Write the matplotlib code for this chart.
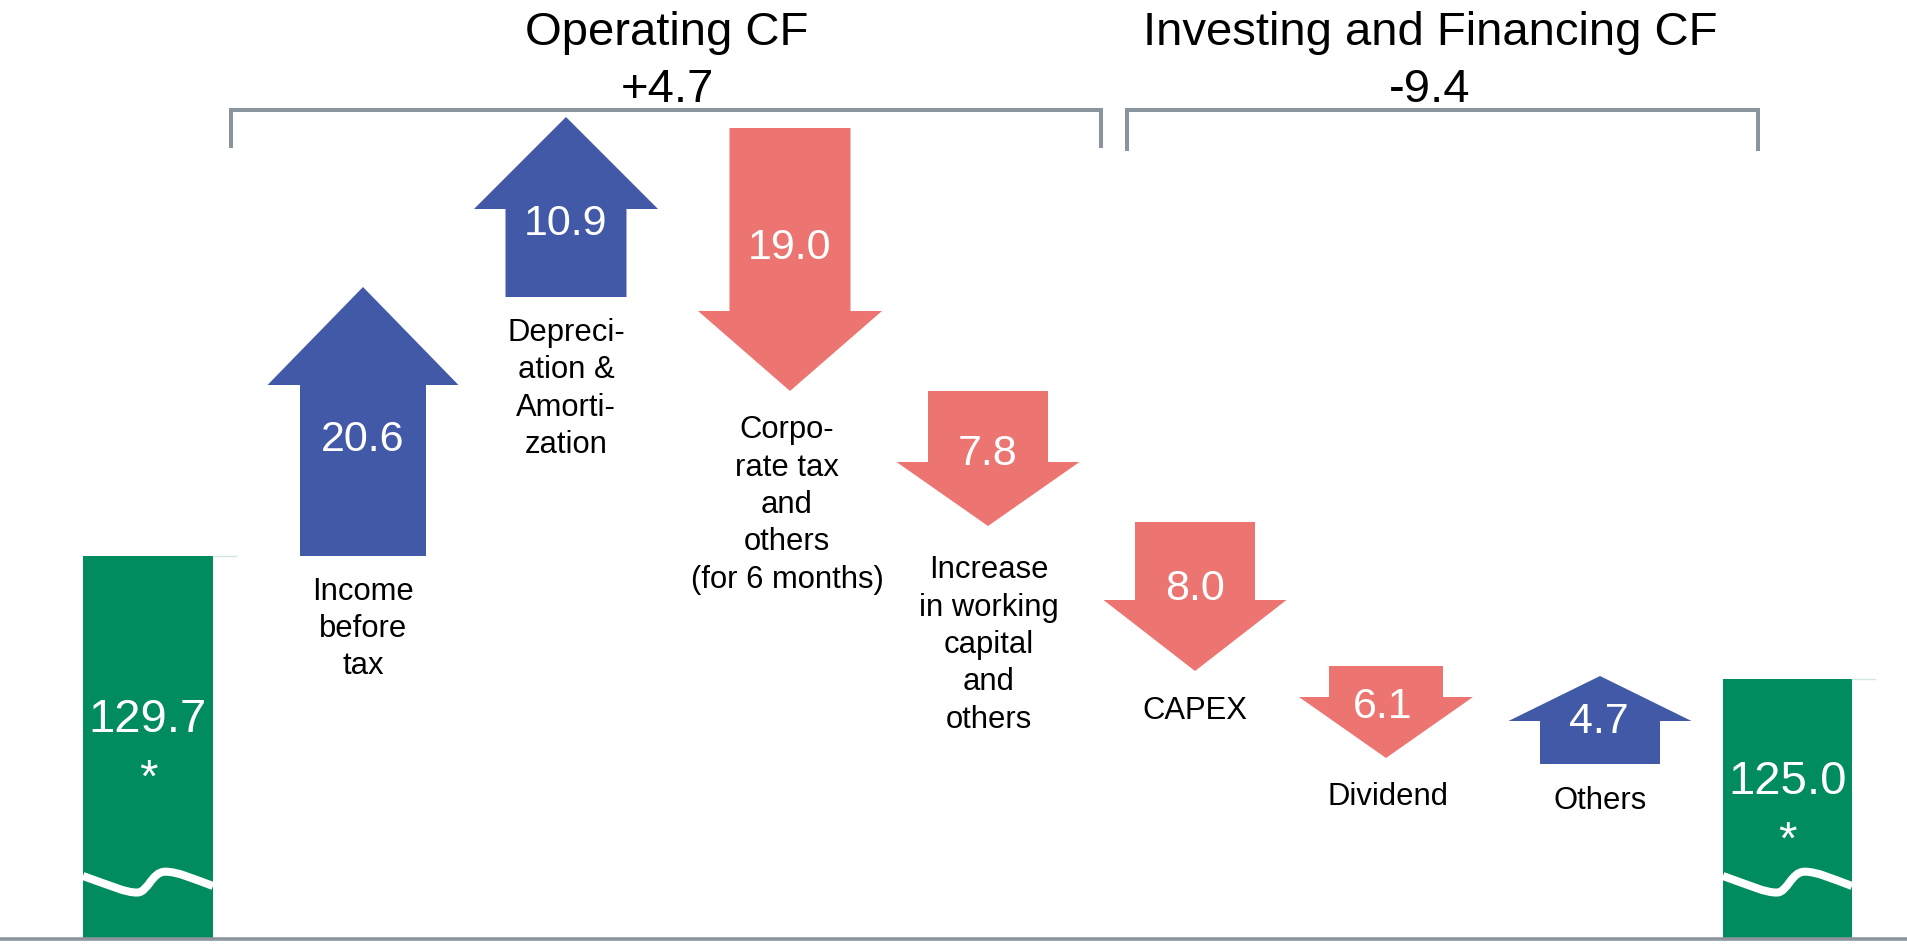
import matplotlib
matplotlib.use("Agg")
import matplotlib.pyplot as plt
from matplotlib.patches import Polygon, Rectangle, PathPatch
from matplotlib.path import Path

plt.rcParams['font.family'] = ['Liberation Sans', 'DejaVu Sans']

# --- data ---
categories = ["Income\nbefore\ntax", "Depreci-\nation &\nAmorti-\nzation",
              "Corpo-\nrate tax\nand\nothers\n(for 6 months)",
              "Increase\nin working\ncapital\nand\nothers",
              "CAPEX", "Dividend", "Others"]
values = [20.6, 10.9, -19.0, -7.8, -8.0, -6.1, 4.7]
cash_start = 129.7
cash_end = 125.0
groups = ["Operating CF", "Investing and Financing CF"]
group_totals = ["+4.7", "-9.4"]

# schematic layout (the arrows are not drawn to scale in the original), pixel units
arrow_x = [363, 566, 790, 988, 1195, 1386, 1600]
arrow_from = [556, 297, 128, 391, 522, 666, 764]
arrow_to = [287, 117, 391, 526, 671, 758, 676]
shaft_w = [126, 121, 121, 120, 120, 114, 120]
head_w = [191, 184, 184, 183, 183, 174, 183]
head_len = [98, 92, 80, 64, 71, 61, 45]
value_x = [363, 566, 790, 988, 1195, 1383, 1599]
value_y = [440, 224, 248, 454, 589, 707, 722]
label_x = [363, 566, 787, 989, 1195, 1388, 1600]
label_y = [629, 389, 505, 645, 711, 797, 801]

BLUE = '#4259A7'
RED = '#EC7572'
GREEN = '#008C5F'
GRAY = '#8A949E'

fig = plt.figure(figsize=(19.08, 9.44), dpi=100)
ax = fig.add_axes([0, 0, 1, 1])
ax.set_xlim(0, 1908)
ax.set_ylim(944, 0)
ax.axis('off')


def arrow(xc, y0, y1, sw, hw, hl, color):
    d = 1 if y1 > y0 else -1
    yb = y1 - d * hl
    pts = [(xc - sw / 2, y0), (xc + sw / 2, y0), (xc + sw / 2, yb), (xc + hw / 2, yb),
           (xc, y1), (xc - hw / 2, yb), (xc - sw / 2, yb)]
    ax.add_patch(Polygon(pts, closed=True, facecolor=color, edgecolor='none'))


for i, v in enumerate(values):
    col = BLUE if v > 0 else RED
    arrow(arrow_x[i], arrow_from[i], arrow_to[i], shaft_w[i], head_w[i], head_len[i], col)
    ax.text(value_x[i], value_y[i], f"{abs(v):.1f}", color='white', fontsize=31,
            ha='center', va='center')
    ax.text(label_x[i], label_y[i], categories[i], color='black', fontsize=22.3,
            ha='center', va='center', linespacing=1.32)

# cash balance bars with a "break" wave
bottom = 938
for xl, w, top, val, vy, sy in [(83, 130, 556, cash_start, 720, 780),
                                (1723, 129, 679, cash_end, 782, 842)]:
    rect = Rectangle((xl, top), w, bottom - top, facecolor=GREEN, edgecolor='none')
    ax.add_patch(rect)
    ax.plot([xl + w, xl + w + 23], [top, top], color='#cfe9df', lw=1)
    verts = [(0, 876), (0.2, 885), (0.33, 893), (0.42, 892.5),
             (0.5, 892), (0.53, 872), (0.63, 871.7),
             (0.73, 871.5), (0.85, 879), (1.0, 886)]
    verts = [(xl + fx * w, y) for fx, y in verts]
    codes = [Path.MOVETO] + [Path.CURVE4] * 9
    wave = PathPatch(Path(verts, codes), facecolor='none', edgecolor='white',
                     lw=5.8, capstyle='butt')
    ax.add_patch(wave)
    wave.set_clip_path(rect)
    ax.text(xl + w / 2, vy, f"{val:.1f}", color='white', fontsize=34, ha='center', va='center')
    ax.text(xl + w / 2, sy, "*", color='white', fontsize=34, ha='center', va='center')

# baseline
ax.plot([0, 1908], [938.5, 938.5], color='#8C959F', lw=2.6, solid_capstyle='butt')

# brackets and group headings
for (x0, x1, yb), name, tot in zip([(231, 1101, 148), (1127, 1758, 151)], groups, group_totals):
    ax.plot([x0, x0, x1, x1], [yb, 110, 110, yb], color=GRAY, lw=2.9,
            solid_joinstyle='miter', solid_capstyle='butt')
    xm = 667 if name == groups[0] else 1430
    ax.text(xm, 45, name, fontsize=34, ha='center', va='baseline')
    ax.text(xm, 102, tot, fontsize=34, ha='center', va='baseline')

fig.savefig('out.png', dpi=100)
